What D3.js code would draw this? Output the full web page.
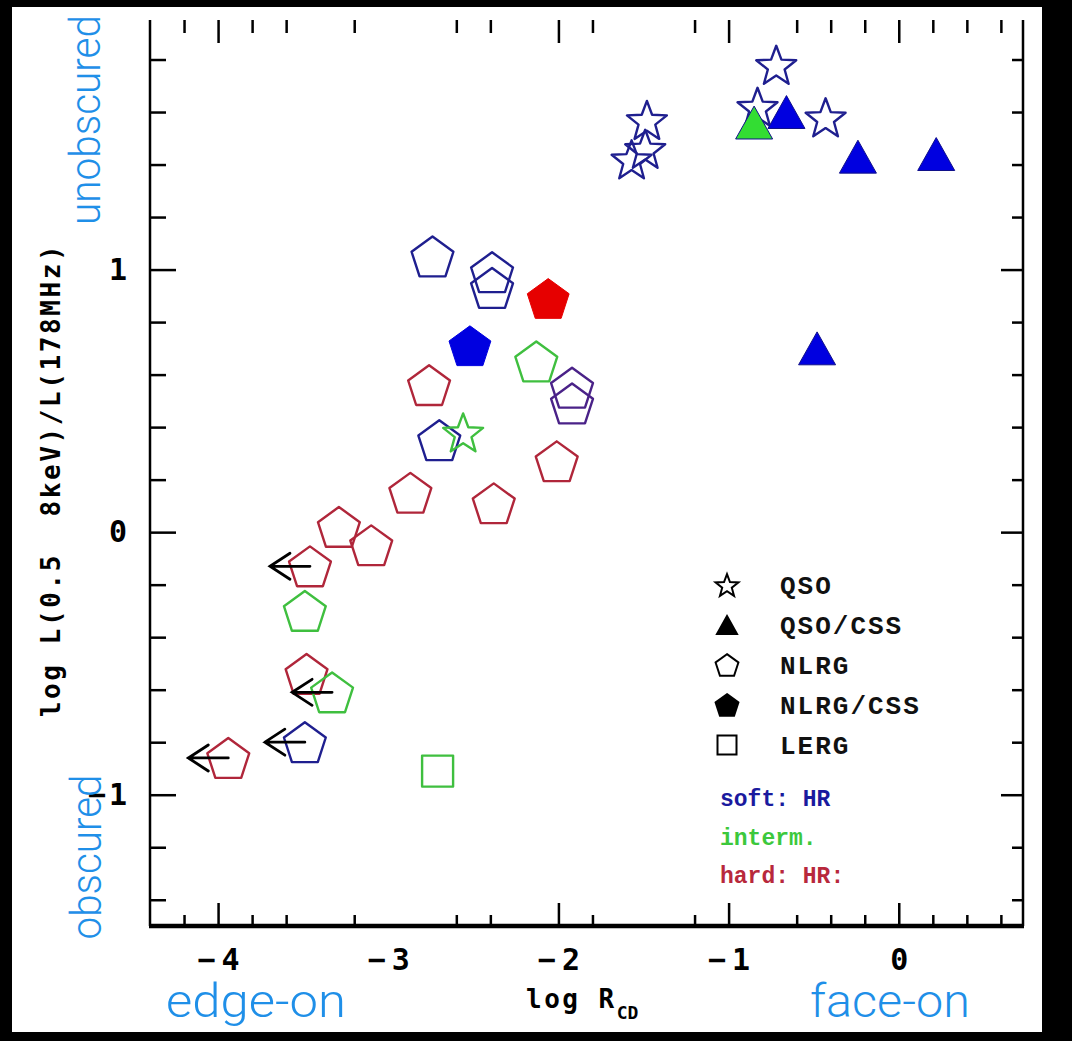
<!DOCTYPE html>
<html lang="en">
<head>
<meta charset="utf-8">
<script src="https://cdn.jsdelivr.net/npm/d3@7"></script>
<style>
body { margin: 0; background: #000; }
svg { display: block; }
</style>
</head>
<body>
<script>
// points: x = log R_CD, y = log L(0.5-8keV)/L(178MHz)
var logR  = [-2.74, -2.39, -2.39, -2.06, -2.52, -2.13, -2.76, -1.92, -1.92, -2.70, -2.01, -2.87, -2.38,
             -3.29, -3.10, -3.46, -3.49, -3.48, -3.33, -3.49, -3.94, -2.71, -2.56,
             -0.72, -1.48, -1.49, -1.57, -0.83, -0.43, -0.66, -0.24, 0.22, -0.48, -0.85];
var logL  = [1.05, 0.99, 0.93, 0.89, 0.71, 0.65, 0.56, 0.55, 0.49, 0.35, 0.27, 0.15, 0.11,
             0.02, -0.05, -0.13, -0.30, -0.54, -0.61, -0.80, -0.86, -0.91, 0.38,
             1.78, 1.57, 1.46, 1.42, 1.62, 1.58, 1.60, 1.43, 1.44, 0.70, 1.56];
var kind  = ["NLRG", "NLRG", "NLRG", "NLRG/CSS", "NLRG/CSS", "NLRG", "NLRG", "NLRG", "NLRG", "NLRG", "NLRG", "NLRG", "NLRG",
             "NLRG", "NLRG", "NLRG", "NLRG", "NLRG", "NLRG", "NLRG", "NLRG", "LERG", "QSO",
             "QSO", "QSO", "QSO", "QSO", "QSO", "QSO", "QSO/CSS", "QSO/CSS", "QSO/CSS", "QSO/CSS", "QSO/CSS"];
var hr    = ["soft", "soft", "soft", "hard", "soft", "interm", "hard", "mixed", "mixed", "soft", "hard", "hard", "hard",
             "hard", "hard", "hard", "interm", "hard", "interm", "soft", "hard", "interm", "interm",
             "soft", "soft", "soft", "soft", "soft", "soft", "soft", "soft", "soft", "soft", "interm"];
// upper limits in log R_CD (drawn as left arrows)
var upper = [0, 0, 0, 0, 0, 0, 0, 0, 0, 0, 0, 0, 0,
             0, 0, 1, 0, 0, 1, 1, 1, 0, 0,
             0, 0, 0, 0, 0, 0, 0, 0, 0, 0, 0];

var legendNames = ["QSO", "QSO/CSS", "NLRG", "NLRG/CSS", "LERG"];
var hrNames = ["soft: HR", "interm.", "hard: HR:"];

var xLabels = [-4, -3, -2, -1, 0];
var xMajor = [-4, -2, -1, 0];
var xMinor = [-4.2, -3.8, -3.6, -3.2, -2.6, -2.4, -1.8, -1.2, -0.6, -0.4, -0.2, 0.2, 0.4, 0.6];
var yLabels = [-1, 0, 1];
var yMajor = [-1, 0, 1];
var yMinor = [-1.4, -1.2, -0.8, -0.6, -0.4, -0.2, 0.2, 0.4, 0.6, 0.8, 1.2, 1.4, 1.6, 1.8];

var w = 1072, h = 1041;
var openColor = {soft: "#1f1f8f", interm: "#3fbf3f", hard: "#b0263a", mixed: "#4a2288"};
var fillColor = {soft: "#0000e0", interm: "#33dd33", hard: "#e60000"};
var pg = "'DejaVu Sans Mono', monospace";

var x = d3.scaleLinear().domain([-4.4, 0.73]).range([150, 1023]);
var y = d3.scaleLinear().domain([-1.5, 2.0]).range([926, 7]);

// custom marker shapes, centred on their bounding box
var pentagon = { draw: function(ctx, size) {
  var r = Math.sqrt(size), dy = 0.0955 * r;
  for (var i = 0; i < 5; i++) {
    var a = -Math.PI / 2 + i * 2 * Math.PI / 5;
    if (i) ctx.lineTo(r * Math.cos(a), r * Math.sin(a) + dy);
    else ctx.moveTo(r * Math.cos(a), r * Math.sin(a) + dy);
  }
  ctx.closePath();
}};
var star = { draw: function(ctx, size) {
  var r = Math.sqrt(size), dy = 0.0955 * r;
  for (var i = 0; i < 10; i++) {
    var a = -Math.PI / 2 + i * Math.PI / 5, rr = i % 2 ? r * 0.42 : r;
    if (i) ctx.lineTo(rr * Math.cos(a), rr * Math.sin(a) + dy);
    else ctx.moveTo(rr * Math.cos(a), rr * Math.sin(a) + dy);
  }
  ctx.closePath();
}};
var triangle = { draw: function(ctx, size) {
  var s = Math.sqrt(size), t = s * 0.89;
  ctx.moveTo(0, -t); ctx.lineTo(s, t); ctx.lineTo(-s, t); ctx.closePath();
}};

var shapeOf = {"QSO": star, "QSO/CSS": triangle, "NLRG": pentagon, "NLRG/CSS": pentagon, "LERG": d3.symbolSquare};
var sizeOf = {"QSO": 21 * 21, "QSO/CSS": 18.5 * 18.5, "NLRG": 22 * 22, "NLRG/CSS": 22 * 22, "LERG": 31 * 31};
var legendSize = {"QSO": 12 * 12, "QSO/CSS": 10 * 10, "NLRG": 12 * 12, "NLRG/CSS": 12 * 12, "LERG": 19 * 19};
function filled(k) { return k == "QSO/CSS" || k == "NLRG/CSS"; }

var svg = d3.select("body").append("svg").attr("width", w).attr("height", h);
svg.append("rect").attr("width", w).attr("height", h).attr("fill", "#000");
svg.append("rect").attr("x", 12).attr("y", 7).attr("width", 1030).attr("height", 1025).attr("fill", "#fff");

// tick marks on all four sides
function ticks(axis, vals, len, tx, ty) {
  var g = svg.append("g").attr("transform", "translate(" + tx + "," + ty + ")")
    .call(axis.tickValues(vals).tickSize(len).tickFormat(""));
  g.select(".domain").remove();
  g.selectAll("line").attr("stroke", "#000").attr("stroke-width", 2.5);
}
ticks(d3.axisTop(x), xMajor, 23, 0, 926);
ticks(d3.axisTop(x), xMinor, 11, 0, 926);
ticks(d3.axisBottom(x), xMajor, 23, 0, 20);
ticks(d3.axisBottom(x), xMinor, 13, 0, 20);
ticks(d3.axisRight(y), yMajor, 26, 150, 0);
ticks(d3.axisRight(y), yMinor, 16, 150, 0);
ticks(d3.axisLeft(y), yMajor, 22, 1023, 0);
ticks(d3.axisLeft(y), yMinor, 11, 1023, 0);

// frame
svg.append("line").attr("x1", x.range()[0]).attr("x2", x.range()[0]).attr("y1", 20).attr("y2", y.range()[0])
  .attr("stroke", "#000").attr("stroke-width", 2.5);
svg.append("line").attr("x1", x.range()[1]).attr("x2", x.range()[1]).attr("y1", 20).attr("y2", y.range()[0])
  .attr("stroke", "#000").attr("stroke-width", 2.5);
svg.append("line").attr("x1", x.range()[0] - 1).attr("x2", x.range()[1] + 1).attr("y1", y.range()[0]).attr("y2", y.range()[0])
  .attr("stroke", "#000").attr("stroke-width", 4.5);

// tick labels
var fmt = d3.format("d");
var xl = svg.append("g").attr("transform", "translate(0,926)")
  .call(d3.axisBottom(x).tickValues(xLabels).tickFormat(fmt).tickSize(0).tickPadding(23));
xl.select(".domain").remove();
xl.selectAll("text").attr("font-family", pg).attr("font-weight", "bold").attr("font-size", 30)
  .attr("letter-spacing", 6).attr("dx", 3).attr("fill", "#000");

var yl = svg.append("g").attr("transform", "translate(150,0)")
  .call(d3.axisLeft(y).tickValues(yLabels).tickFormat(fmt).tickSize(0).tickPadding(20));
yl.select(".domain").remove();
yl.selectAll("text").attr("font-family", pg).attr("font-weight", "bold").attr("font-size", 30)
  .attr("letter-spacing", 3).attr("fill", "#000");

// axis titles
svg.append("text").attr("transform", "translate(60,480) rotate(-90)")
  .attr("text-anchor", "middle").style("white-space", "pre")
  .attr("font-family", pg).attr("font-weight", "bold").attr("font-size", 26).attr("letter-spacing", 2.6)
  .text("log L(0.5  8keV)/L(178MHz)");

var xt = svg.append("text").attr("x", 526).attr("y", 1008)
  .attr("font-family", pg).attr("font-weight", "bold").attr("font-size", 26).attr("letter-spacing", 2.5)
  .style("white-space", "pre");
xt.append("tspan").text("log R");
xt.append("tspan").attr("dy", 11).attr("font-size", 18).attr("letter-spacing", 0).text("CD");

// data points
var sym = d3.symbol();
var pts = d3.range(logR.length);
svg.append("g").selectAll("path").data(pts).enter().append("path")
  .attr("transform", function(i) { return "translate(" + x(logR[i]) + "," + y(logL[i]) + ")"; })
  .attr("d", function(i) { return sym.type(shapeOf[kind[i]]).size(sizeOf[kind[i]])(); })
  .attr("fill", function(i) { return filled(kind[i]) ? fillColor[hr[i]] : "none"; })
  .attr("stroke", function(i) { return filled(kind[i]) ? (kind[i] == "QSO/CSS" ? "#10108a" : fillColor[hr[i]]) : openColor[hr[i]]; })
  .attr("stroke-width", function(i) { return filled(kind[i]) ? 1 : 2.4; })
  .attr("stroke-linejoin", "round");

// upper-limit arrows
var arrowDex = 0.235;
var lim = pts.filter(function(i) { return upper[i]; });
var ag = svg.append("g").attr("stroke", "#000").attr("stroke-width", 2.8).attr("fill", "none").attr("stroke-linecap", "round");
ag.selectAll("path").data(lim).enter().append("path")
  .attr("d", function(i) {
    var x0 = x(logR[i]), x1 = x(logR[i] - arrowDex), yy = y(logL[i]);
    return "M" + x0 + "," + yy + "H" + x1 + "M" + (x1 + 20) + "," + (yy - 13) + "L" + x1 + "," + yy + "L" + (x1 + 20) + "," + (yy + 13);
  });

// legend
var lg = svg.append("g").attr("transform", "translate(727,585)");
legendNames.forEach(function(k, j) {
  lg.append("path").attr("transform", "translate(0," + (j * 40) + ")")
    .attr("d", sym.type(shapeOf[k]).size(legendSize[k])())
    .attr("fill", filled(k) ? "#000" : "none").attr("stroke", "#000").attr("stroke-width", 2);
  lg.append("text").attr("x", 53).attr("y", j * 40 + 9)
    .attr("font-family", "'Liberation Mono', monospace").attr("font-weight", "bold")
    .attr("font-size", 26).attr("letter-spacing", 2).attr("fill", "#111").text(k);
});
var hrCol = ["#1a1a9e", "#3cc83c", "#b8283c"];
hrNames.forEach(function(t, j) {
  svg.append("text").attr("x", 720).attr("y", 806 + j * 38.5)
    .attr("font-family", "'Liberation Mono', monospace").attr("font-weight", "bold")
    .attr("font-size", 23).attr("fill", hrCol[j]).text(t);
});

// blue annotations
var ann = "#1f8fe8";
function note(t, tx, ty, rot, len, fs) {
  svg.append("text").attr("transform", "translate(" + tx + "," + ty + ")" + (rot ? " rotate(-90)" : ""))
    .attr("text-anchor", "middle").attr("font-family", "Roboto, 'Liberation Sans', sans-serif").attr("font-weight", 300)
    .attr("font-size", fs).attr("fill", ann)
    .attr("textLength", len).attr("lengthAdjust", "spacingAndGlyphs").text(t);
}
note("unobscured", 100, 120, true, 210, 42);
note("obscured", 101, 857, true, 165, 42);
note("edge-on", 256, 1017, false, 180, 46);
note("face-on", 890, 1017, false, 160, 46);
</script>
</body>
</html>
